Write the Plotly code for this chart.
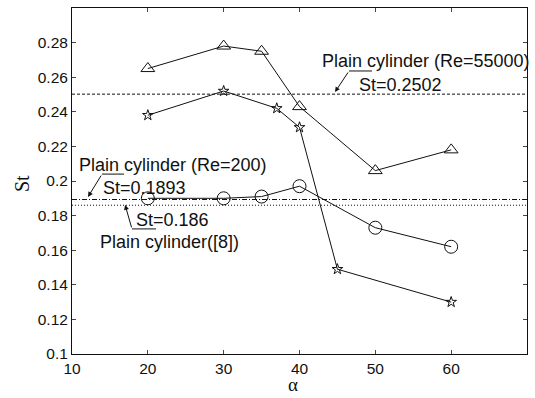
import plotly.graph_objects as go

# ---- data ----
alpha_tri = [20, 30, 35, 40, 50, 60]
st_tri = [0.265, 0.278, 0.275, 0.243, 0.206, 0.218]

alpha_star = [20, 30, 37, 40, 45, 60]
st_star = [0.238, 0.252, 0.242, 0.231, 0.149, 0.130]

alpha_circ = [20, 30, 35, 40, 50, 60]
st_circ = [0.190, 0.190, 0.191, 0.197, 0.173, 0.162]

ref_x = [10, 70]
st_re55000 = 0.2502
st_re200 = 0.1893
st_ref8 = 0.186

x_ticks = [10, 20, 30, 40, 50, 60, 70]
y_ticks = [0.1, 0.12, 0.14, 0.16, 0.18, 0.2, 0.22, 0.24, 0.26, 0.28]
y_ticktext = ["0.1", "0.12", "0.14", "0.16", "0.18", "0.2", "0.22", "0.24", "0.26", "0.28"]

SANS = "Liberation Sans, Arial, sans-serif"
SERIF = "Liberation Serif, Times New Roman, serif"
BLACK = "#111111"

fig = go.Figure()

# reference lines
fig.add_trace(go.Scatter(x=ref_x, y=[st_re55000] * 2, mode="lines",
                         line=dict(color=BLACK, width=1, dash="3px,2px"), showlegend=False))
fig.add_trace(go.Scatter(x=ref_x, y=[st_re200] * 2, mode="lines",
                         line=dict(color=BLACK, width=1, dash="5px,2px,1px,2px"), showlegend=False))
fig.add_trace(go.Scatter(x=ref_x, y=[st_ref8] * 2, mode="lines",
                         line=dict(color=BLACK, width=1, dash="1px,2px"), showlegend=False))

marker_line = dict(color=BLACK, width=1)
fig.add_trace(go.Scatter(x=alpha_tri, y=st_tri, mode="lines+markers",
                         line=dict(color=BLACK, width=1),
                         marker=dict(symbol="triangle-up-open", size=12, color=BLACK, line=marker_line),
                         showlegend=False))
fig.add_trace(go.Scatter(x=alpha_star, y=st_star, mode="lines+markers",
                         line=dict(color=BLACK, width=1),
                         marker=dict(symbol="star-open", size=8, color=BLACK, line=marker_line),
                         showlegend=False))
fig.add_trace(go.Scatter(x=alpha_circ, y=st_circ, mode="lines+markers",
                         line=dict(color=BLACK, width=1),
                         marker=dict(symbol="circle-open", size=13, color=BLACK, line=marker_line),
                         showlegend=False))

ann_font = dict(family=SANS, size=18, color=BLACK)
annotations = [
    # Re=55000
    dict(x=56.62, y=0.2694, text="Plain cylinder (Re=55000)", showarrow=False, font=ann_font),
    dict(x=53.3, y=0.2557, text="St=0.2502", showarrow=False, font=ann_font),
    dict(x=44.68, y=0.2514, ax=46.53, ay=0.2636, axref="x", ayref="y", text="",
         showarrow=True, arrowhead=2, arrowsize=1, arrowwidth=1, arrowcolor=BLACK),
    # Re=200
    dict(x=23.3, y=0.2092, text="Plain cylinder (Re=200)", showarrow=False, font=ann_font),
    dict(x=19.5, y=0.1962, text="St=0.1893", showarrow=False, font=ann_font),
    dict(x=12.11, y=0.1908, ax=13.96, ay=0.2040, axref="x", ayref="y", text="",
         showarrow=True, arrowhead=2, arrowsize=1, arrowwidth=1, arrowcolor=BLACK),
    # [8]
    dict(x=23.3, y=0.1775, text="St=0.186", showarrow=False, font=ann_font),
    dict(x=22.9, y=0.1650, text="Plain cylinder([8])", showarrow=False, font=ann_font),
    dict(x=17.0, y=0.1862, ax=17.91, ay=0.1723, axref="x", ayref="y", text="",
         showarrow=True, arrowhead=2, arrowsize=1, arrowwidth=1, arrowcolor=BLACK),
    # axis titles
    dict(x=-0.11, y=0.494, xref="paper", yref="paper", xanchor="center", yanchor="middle",
         text="St", showarrow=False, textangle=-90,
         font=dict(family=SERIF, size=20, color=BLACK)),
    dict(x=0.486, y=-0.089, xref="paper", yref="paper", xanchor="center", yanchor="middle",
         text="α", showarrow=False, font=dict(family=SERIF, size=19, color=BLACK)),
]

shapes = [
    dict(type="line", xref="x", yref="y", x0=46.53, x1=49.56, y0=0.2636, y1=0.2636,
         line=dict(color=BLACK, width=1)),
    dict(type="line", xref="x", yref="y", x0=13.96, x1=16.86, y0=0.2040, y1=0.2040,
         line=dict(color=BLACK, width=1)),
    dict(type="line", xref="x", yref="y", x0=17.91, x1=21.08, y0=0.1723, y1=0.1723,
         line=dict(color=BLACK, width=1)),
]

fig.update_layout(
    width=535, height=398,
    margin=dict(l=72, r=8, t=8, b=44),
    paper_bgcolor="white", plot_bgcolor="white",
    annotations=annotations, shapes=shapes,
    showlegend=False,
)
fig.update_xaxes(range=[10, 70], tickvals=x_ticks, ticks="inside", ticklen=4,
                 showline=True, linecolor=BLACK, linewidth=1, mirror="ticks",
                 showgrid=False, zeroline=False,
                 tickfont=dict(family=SANS, size=15.5, color=BLACK))
fig.update_yaxes(range=[0.1, 0.3], tickvals=y_ticks, ticktext=y_ticktext, ticks="inside", ticklen=4,
                 showline=True, linecolor=BLACK, linewidth=1, mirror="ticks",
                 showgrid=False, zeroline=False,
                 tickfont=dict(family=SANS, size=15.5, color=BLACK))

fig.write_html("out.html")
